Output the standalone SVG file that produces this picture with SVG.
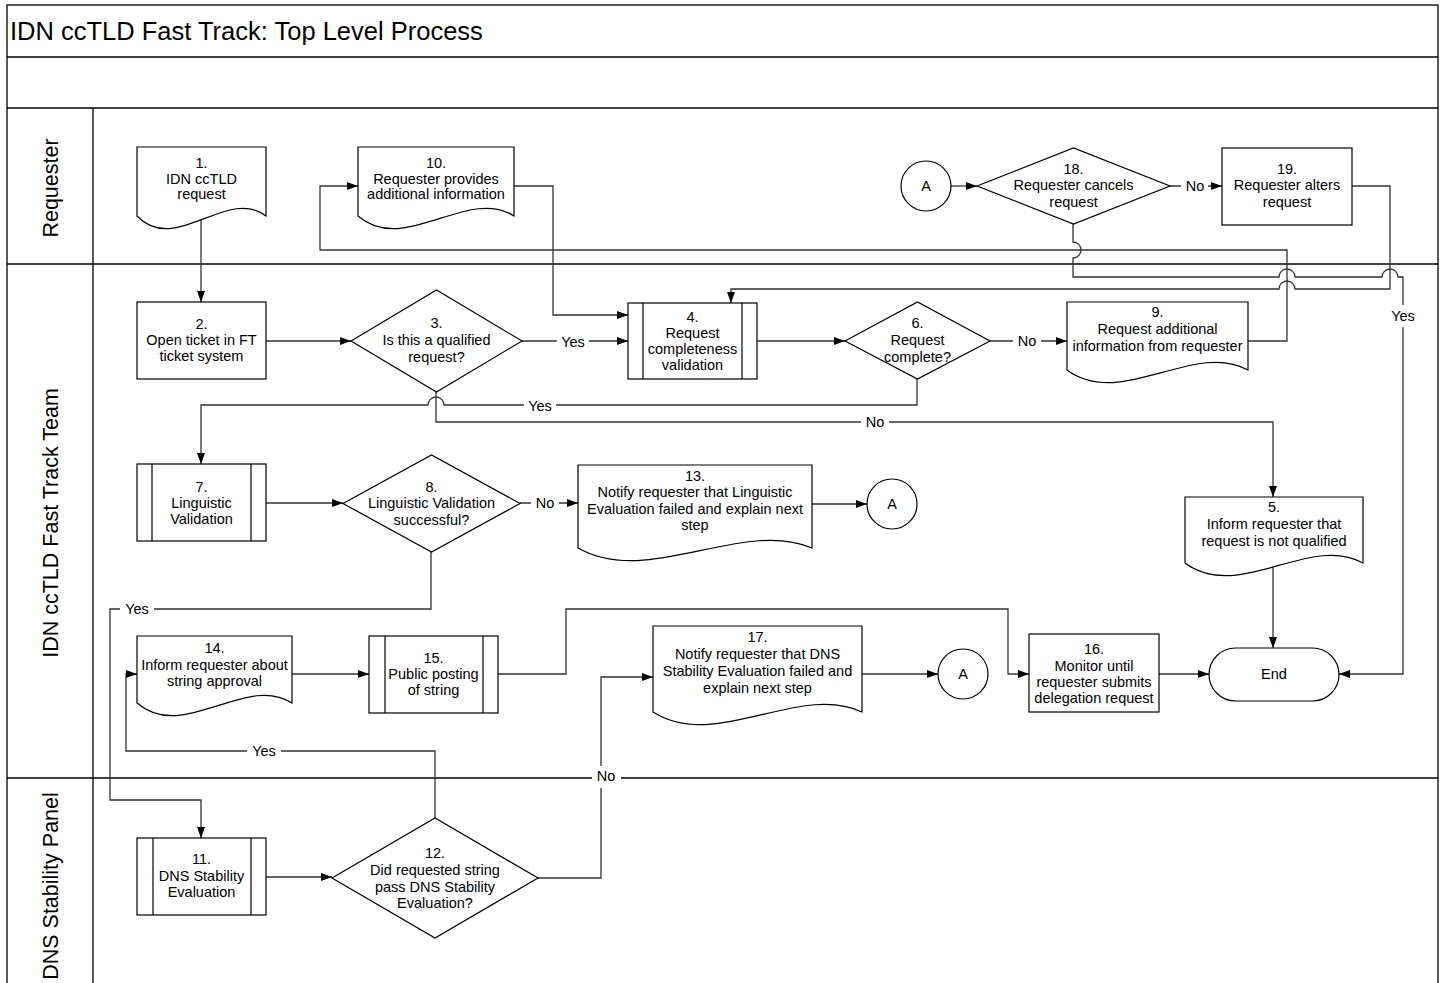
<svg xmlns="http://www.w3.org/2000/svg" width="1445" height="983" viewBox="0 0 1445 983">
<defs>
<marker id="arr" markerUnits="userSpaceOnUse" markerWidth="11" markerHeight="8" refX="11" refY="4" orient="auto">
<path d="M0,0 L11,4 L0,8 Z" fill="#000"/>
</marker>
<style>
.frame{fill:none;stroke:#000;stroke-width:1.3}
.shape{fill:#fff;stroke:#000;stroke-width:1.2}
.line{fill:none;stroke:#000;stroke-width:1.2}
.conn{fill:none;stroke:#333;stroke-width:1.3}
.arrow{marker-end:url(#arr)}
text{font-family:"Liberation Sans",Arial,sans-serif;fill:#000}
.t{font-size:14.5px;text-anchor:middle}
.lbl{font-size:14.5px;text-anchor:middle}
.lane{font-size:21.5px;text-anchor:middle}
.bg{fill:#fff;stroke:none}
</style>
</defs>
<rect width="1445" height="983" fill="#fff"/>
<g id="pool">
<rect class="frame" x="7" y="5" width="1431" height="985"/>
<line class="frame" x1="7" y1="57" x2="1438" y2="57"/>
<line class="frame" x1="7" y1="108" x2="1438" y2="108"/>
<line class="frame" x1="7" y1="264" x2="1438" y2="264"/>
<line class="frame" x1="7" y1="778" x2="1438" y2="778"/>
<line class="frame" x1="93" y1="108" x2="93" y2="983"/>
<text x="10" y="40" style="font-size:25.5px">IDN ccTLD Fast Track: Top Level Process</text>
<text class="lane" transform="translate(58,188) rotate(-90)">Requester</text>
<text class="lane" transform="translate(58,523) rotate(-90)">IDN ccTLD Fast Track Team</text>
<text class="lane" transform="translate(58,886) rotate(-90)">DNS Stability Panel</text>
</g>
<g id="connectors">
<path class="conn arrow" d="M201,220 V302"/>
<path class="conn arrow" d="M266,341 H351"/>
<path class="conn arrow" d="M522,341 H628"/>
<path class="conn arrow" d="M757,341 H845"/>
<path class="conn arrow" d="M990,341 H1067"/>
<path class="conn arrow" d="M1248,341 H1287 V250 H320 V186 H358"/>
<path class="conn arrow" d="M514,186 H553 V315 H628"/>
<path class="conn arrow" d="M1352,186 H1390 V289 H1295 A8,8 0 0 0 1279,289 H731 V303"/>
<path class="conn arrow" d="M1073,224 V242 A8,8 0 0 1 1073,258 V277 H1279 A8,8 0 0 1 1295,277 H1382 A8,8 0 0 1 1398,277 H1403 V674 H1339"/>
<path class="conn arrow" d="M917,379 V405 H444 A8,8 0 0 0 428,405 H201 V464"/>
<path class="conn arrow" d="M436,392 V422 H1273 V497"/>
<path class="conn arrow" d="M266,503 H343"/>
<path class="conn arrow" d="M520,503 H578"/>
<path class="conn arrow" d="M812,504 H867"/>
<path class="conn arrow" d="M431,552 V609 H110 V800 H201 V838"/>
<path class="conn arrow" d="M266,877 H332"/>
<path class="conn arrow" d="M435,818 V751 H126 V674 H137"/>
<path class="conn arrow" d="M538,878 H601 V677 H653"/>
<path class="conn arrow" d="M292,674 H369"/>
<path class="conn arrow" d="M498,674 H566 V609 H1008 V674 H1029"/>
<path class="conn arrow" d="M862,674 H938"/>
<path class="conn arrow" d="M1159,674 H1209"/>
<path class="conn arrow" d="M1273,567 V648"/>
<path class="conn arrow" d="M951,186 H977"/>
<path class="conn arrow" d="M1170,186 H1222"/>
</g>
<g id="labels">
<rect class="bg" x="557" y="332" width="32" height="18"/><text class="lbl" x="573" y="347">Yes</text>
<rect class="bg" x="1013" y="332" width="28" height="18"/><text class="lbl" x="1027" y="346">No</text>
<rect class="bg" x="524" y="397" width="32" height="18"/><text class="lbl" x="540" y="411">Yes</text>
<rect class="bg" x="861" y="413" width="28" height="18"/><text class="lbl" x="875" y="427">No</text>
<rect class="bg" x="531" y="494" width="28" height="18"/><text class="lbl" x="545" y="508">No</text>
<rect class="bg" x="120" y="600" width="34" height="18"/><text class="lbl" x="137" y="614">Yes</text>
<rect class="bg" x="247" y="742" width="34" height="18"/><text class="lbl" x="264" y="756">Yes</text>
<rect class="bg" x="592" y="766" width="29" height="22"/><text class="lbl" x="606" y="781">No</text>
<rect class="bg" x="1181" y="177" width="27" height="18"/><text class="lbl" x="1195" y="191">No</text>
<rect class="bg" x="1388" y="305" width="32" height="22"/><text class="lbl" x="1403" y="321">Yes</text>
</g>
<g id="n1"><path class="shape" d="M137,147 H266 V216 C227.3,186 175.7,256 137,216 Z"/>
<text class="t" x="201.5" y="168">1.</text><text class="t" x="201.5" y="184">IDN ccTLD</text><text class="t" x="201.5" y="199">request</text></g>
<g id="n10"><path class="shape" d="M358,147 H514 V216 C467.2,186 404.8,256 358,216 Z"/>
<text class="t" x="436" y="168">10.</text><text class="t" x="436" y="184">Requester provides</text><text class="t" x="436" y="199">additional information</text></g>
<g id="nA1"><circle class="shape" cx="926" cy="186" r="25"/><text class="t" x="926" y="191">A</text></g>
<g id="n18"><polygon class="shape" points="977,186 1073.5,148 1170,186 1073.5,224"/>
<text class="t" x="1073.5" y="174">18.</text><text class="t" x="1073.5" y="190">Requester cancels</text><text class="t" x="1073.5" y="207">request</text></g>
<g id="n19"><rect class="shape" x="1222" y="148" width="130" height="77"/>
<text class="t" x="1287" y="174">19.</text><text class="t" x="1287" y="190">Requester alters</text><text class="t" x="1287" y="207">request</text></g>
<g id="n2"><rect class="shape" x="137" y="302" width="129" height="77"/>
<text class="t" x="201.5" y="329">2.</text><text class="t" x="201.5" y="345">Open ticket in FT</text><text class="t" x="201.5" y="361">ticket system</text></g>
<g id="n3"><polygon class="shape" points="351,341 436.5,290 522,341 436.5,392"/>
<text class="t" x="436.5" y="328">3.</text><text class="t" x="436.5" y="345">Is this a qualified</text><text class="t" x="436.5" y="362">request?</text></g>
<g id="n4"><rect class="shape" x="628" y="303" width="129" height="76"/><line class="line" x1="643" y1="303" x2="643" y2="379"/><line class="line" x1="742" y1="303" x2="742" y2="379"/>
<text class="t" x="692.5" y="322">4.</text><text class="t" x="692.5" y="338">Request</text><text class="t" x="692.5" y="354">completeness</text><text class="t" x="692.5" y="370">validation</text></g>
<g id="n6"><polygon class="shape" points="845,341 917.5,302 990,341 917.5,379"/>
<text class="t" x="917.5" y="328">6.</text><text class="t" x="917.5" y="345">Request</text><text class="t" x="917.5" y="362">complete?</text></g>
<g id="n9"><path class="shape" d="M1067,302 H1248 V370 C1193.7,340 1121.3,410 1067,370 Z"/>
<text class="t" x="1157.5" y="317">9.</text><text class="t" x="1157.5" y="334">Request additional</text><text class="t" x="1157.5" y="351">information from requester</text></g>
<g id="n7"><rect class="shape" x="137" y="464" width="129" height="77"/><line class="line" x1="152" y1="464" x2="152" y2="541"/><line class="line" x1="251" y1="464" x2="251" y2="541"/>
<text class="t" x="201.5" y="492">7.</text><text class="t" x="201.5" y="508">Linguistic</text><text class="t" x="201.5" y="524">Validation</text></g>
<g id="n8"><polygon class="shape" points="343,503.5 431.5,455 520,503.5 431.5,552"/>
<text class="t" x="431.5" y="492">8.</text><text class="t" x="431.5" y="508">Linguistic Validation</text><text class="t" x="431.5" y="525">successful?</text></g>
<g id="n13"><path class="shape" d="M578,465 H812 V548 C741.8,518 648.2,588 578,548 Z"/>
<text class="t" x="695" y="481">13.</text><text class="t" x="695" y="497">Notify requester that Linguistic</text><text class="t" x="695" y="514">Evaluation failed and explain next</text><text class="t" x="695" y="530">step</text></g>
<g id="nA2"><circle class="shape" cx="892" cy="504" r="25"/><text class="t" x="892" y="509">A</text></g>
<g id="n5"><path class="shape" d="M1185,497 H1363 V563 C1309.6,533 1238.4,603 1185,563 Z"/>
<text class="t" x="1274" y="512">5.</text><text class="t" x="1274" y="529">Inform requester that</text><text class="t" x="1274" y="546">request is not qualified</text></g>
<g id="n14"><path class="shape" d="M137,636 H292 V703 C245.5,673 183.5,743 137,703 Z"/>
<text class="t" x="214.5" y="653">14.</text><text class="t" x="214.5" y="670">Inform requester about</text><text class="t" x="214.5" y="686">string approval</text></g>
<g id="n15"><rect class="shape" x="369" y="636" width="129" height="77"/><line class="line" x1="385" y1="636" x2="385" y2="713"/><line class="line" x1="483" y1="636" x2="483" y2="713"/>
<text class="t" x="433.5" y="663">15.</text><text class="t" x="433.5" y="679">Public posting</text><text class="t" x="433.5" y="695">of string</text></g>
<g id="n17"><path class="shape" d="M653,626 H862 V712 C799.3,682 715.7,752 653,712 Z"/>
<text class="t" x="757.5" y="642">17.</text><text class="t" x="757.5" y="659">Notify requester that DNS</text><text class="t" x="757.5" y="676">Stability Evaluation failed and</text><text class="t" x="757.5" y="693">explain next step</text></g>
<g id="nA3"><circle class="shape" cx="963" cy="674" r="25"/><text class="t" x="963" y="679">A</text></g>
<g id="n16"><rect class="shape" x="1029" y="634" width="130" height="78"/>
<text class="t" x="1094" y="654">16.</text><text class="t" x="1094" y="671">Monitor until</text><text class="t" x="1094" y="687">requester submits</text><text class="t" x="1094" y="703">delegation request</text></g>
<g id="nEnd"><rect class="shape" x="1209" y="648" width="130" height="53" rx="26.5"/><text class="t" x="1274" y="679">End</text></g>
<g id="n11"><rect class="shape" x="137" y="838" width="129" height="77"/><line class="line" x1="153" y1="838" x2="153" y2="915"/><line class="line" x1="251" y1="838" x2="251" y2="915"/>
<text class="t" x="201.5" y="864">11.</text><text class="t" x="201.5" y="881">DNS Stability</text><text class="t" x="201.5" y="897">Evaluation</text></g>
<g id="n12"><polygon class="shape" points="332,878 435,818 538,878 435,938"/>
<text class="t" x="435" y="858">12.</text><text class="t" x="435" y="875">Did requested string</text><text class="t" x="435" y="892">pass DNS Stability</text><text class="t" x="435" y="908">Evaluation?</text></g>
</svg>
